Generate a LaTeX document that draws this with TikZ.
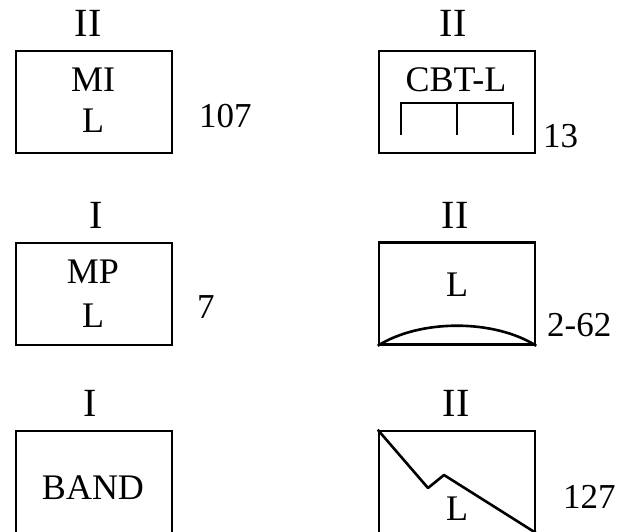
\documentclass[tikz,border=0pt]{standalone}
\usepackage{fontspec}
\setmainfont{Liberation Serif}
\begin{document}
\begin{tikzpicture}[x=1pt,y=-1pt,
  box/.style={draw,line width=2.6pt,rectangle,minimum width=156pt,minimum height=102pt,inner sep=0pt},
  tallbox/.style={box,minimum height=140pt},
  txt/.style={anchor=base,inner sep=0pt,font=\fontsize{36}{40}\selectfont},
  num/.style={anchor=base west,inner sep=0pt,font=\fontsize{35}{40}\selectfont},
  rom/.style={anchor=base,inner sep=0pt,font=\fontsize{40}{44}\selectfont},
  glyphline/.style={line width=2.6pt}]
\useasboundingbox (0,0) rectangle (625,532);
\clip (0,0) rectangle (625,532);
% boxes
\node[box] (b1) at (94,102) {};
\node[box] (b2) at (94,294) {};
\node[tallbox] (b3) at (94,501) {};
\node[box] (b4) at (457,102) {};
\node[box] (b5) at (457,293.5) {};
\node[tallbox] (b6) at (457,501) {};
% roman numerals
\node[rom] (r1) at (88,37) {II};
\node[rom] (r2) at (96,229) {I};
\node[rom] (r3) at (90,417) {I};
\node[rom] (r4) at (453,37) {II};
\node[rom] (r5) at (455,229) {II};
\node[rom] (r6) at (456,417) {II};
% inner texts
\node[txt] (t1a) at (93,92) {MI};
\node[txt] (t1b) at (93,133) {L};
\node[txt] (t2a) at (93,284) {MP};
\node[txt] (t2b) at (93,328) {L};
\node[txt] (t3) at (93,499) {BAND};
\node[txt] (t4) at (456,92) {CBT-L};
\node[txt] (t5) at (457,297) {L};
\node[txt] (t6) at (457,520) {L};
% numbers
\node[num] (n1) at (199,128) {107};
\node[num] (n2) at (197,319) {7};
\node[num] (n4) at (543,148) {13};
\node[num] (n5) at (547,337) {2-62};
\node[num] (n6) at (563,508) {127};
% bracket in CBT-L
\coordinate (k1) at (401,135);
\coordinate (k2) at (401,103);
\coordinate (k3) at (513,103);
\coordinate (k4) at (513,135);
\coordinate (km) at (457,103);
\coordinate (kb) at (457,135);
\draw[glyphline] (k1) -- (k2) -- (k3) -- (k4);
\draw[glyphline] (km) -- (kb);
% arc in 2-62
\draw[glyphline] (b5.south west) .. controls (420,319) and (494,319) .. (b5.south east);
% zigzag in 127
\coordinate (z1) at (428,488);
\coordinate (z2) at (444,475);
\coordinate (z3) at (536,533);
\draw[glyphline,line join=round] (b6.north west) -- (z1) -- (z2) -- (z3);
\end{tikzpicture}
\end{document}
